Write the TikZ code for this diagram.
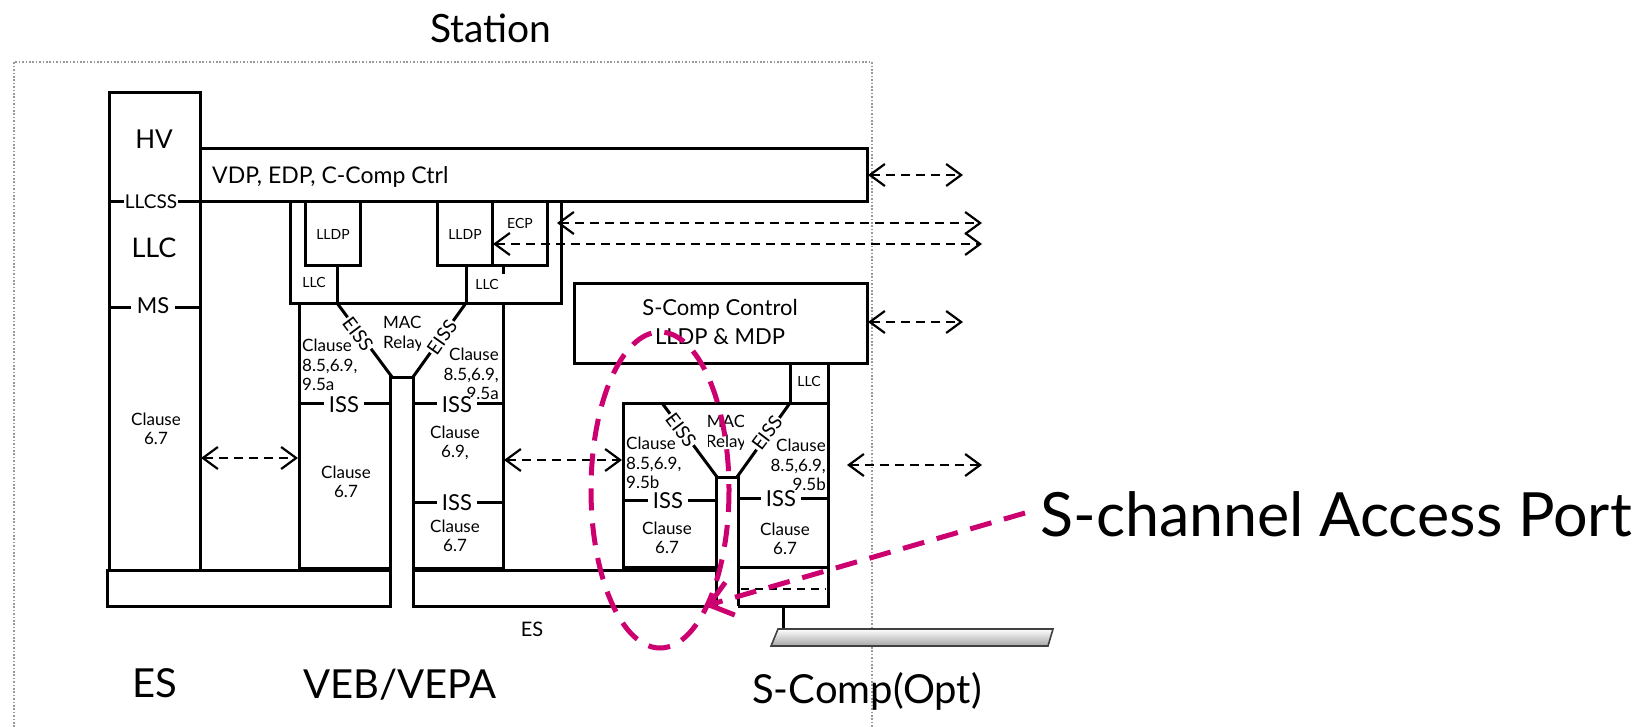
\documentclass[tikz,border=0pt]{standalone}
\usepackage{fontspec}
\setmainfont{Lato}
\usetikzlibrary{arrows.meta}
\definecolor{accentpink}{RGB}{204,0,110}
\begin{document}
\begin{tikzpicture}[x=1pt,y=-1pt,
  line join=miter,
  frame/.style={draw=black, line width=3pt},
  dotbox/.style={draw=black!40, line width=1.8pt, dash pattern=on 1.6pt off 1.8pt},
  darrow/.style={draw=black, line width=2.2pt, dash pattern=on 9pt off 6pt,
     {Straight Barb[length=15pt,width=22pt]}-{Straight Barb[length=15pt,width=22pt]}},
  pinkdash/.style={draw=accentpink, line width=5pt, dash pattern=on 22pt off 13pt},
  txt/.style={inner sep=0pt, align=center},
  small/.style={txt, font=\fontsize{17}{19.5}\selectfont},
  tiny/.style={txt, font=\fontsize{14}{16}\selectfont},
  iss/.style={txt, font=\fontsize{22}{24}\selectfont, fill=white, inner xsep=5pt},
  eiss/.style={txt, font=\fontsize{19}{21}\selectfont, fill=white, inner sep=1pt},
  big/.style={txt, font=\fontsize{40}{44}\selectfont},
]
\useasboundingbox (0,0) rectangle (1648,727);

% Station dotted frame
\draw[dotbox] (14,727) -- (14,62) -- (872,62) -- (872,727);
\node[txt, font=\fontsize{39}{44}\selectfont, anchor=base] (station) at (491,43) {Station};

% ---------------- ES column ----------------
\draw[frame] (109,93) rectangle (200,570);
\draw[frame] (109,202) -- (200,202);
\draw[frame] (109,307) -- (200,307);
\node[txt, font=\fontsize{26}{28}\selectfont] (hv) at (154,139) {HV};
\node[txt, font=\fontsize{19}{21}\selectfont, fill=white, inner xsep=1pt] (llcss) at (151,202) {LLCSS};
\node[txt, font=\fontsize{27}{29}\selectfont] (llcbig) at (154,248) {LLC};
\node[txt, font=\fontsize{22}{24}\selectfont, fill=white, inner xsep=6pt] (ms) at (153,306) {MS};
\node[small] (escl) at (156,429) {Clause\\6.7};

% VDP box
\draw[frame] (200,149) rectangle (867,202);
\node[txt, font=\fontsize{23}{25}\selectfont, anchor=base west] (vdp) at (212,184) {VDP, EDP, C-Comp Ctrl};

% ---------------- VEB / VEPA ----------------
\draw[frame] (290,202) rectangle (561,303);
\draw[frame] (305,202) rectangle (360,266);
\draw[frame] (337,266) -- (337,303);
\draw[frame] (437,202) rectangle (492,266);
\draw[frame] (492,202) rectangle (547,266);
\draw[frame] (466,266) -- (466,303);
\draw[frame] (503,266) -- (503,274);
\node[tiny] (lldpa) at (333,234) {LLDP};
\node[tiny] (lldpb) at (465,234) {LLDP};
\node[tiny] (ecp) at (520,223) {ECP};
\node[tiny] (llca) at (314,282) {LLC};
\node[tiny] (llcb) at (487,284) {LLC};

% ports
\draw[frame] (299,303) -- (299,568) -- (390,568);
\draw[frame] (390,606) -- (390,377) -- (413,377) -- (413,606);
\draw[frame] (413,568) -- (503,568) -- (503,303);
\draw[frame] (299,403) -- (390,403);
\draw[frame] (413,403) -- (503,403);
\draw[frame] (413,502) -- (503,502);
\draw[frame] (337,303) -- (392,377);
\draw[frame] (466,303) -- (413,377);

% bus bars
\draw[frame] (107,570) rectangle (390,606);
\draw[frame] (413,570) rectangle (716,606);

\node[eiss, rotate=-53] (eissa) at (358,334) {EISS};
\node[eiss, rotate=55] (eissb) at (442,337) {EISS};
\begin{scope}
  \clip (370,300) rectangle (420,360);
  \node[small, anchor=west, align=left] (relaya) at (383,334) {MAC\\Relay};
\end{scope}
\node[small, anchor=west, align=left] (cla) at (302,365) {Clause\\8.5,6.9,\\9.5a};
\node[small, anchor=east, align=right] (clb) at (499,374) {Clause\\8.5,6.9,\\9.5a};
\node[iss] (issa) at (344,405) {ISS};
\node[iss] (issb) at (457,405) {ISS};
\node[iss] (issc) at (457,503) {ISS};
\node[small] (clc) at (346,482) {Clause\\6.7};
\node[small] (cld) at (455,443) {Clause\\6.9,};
\node[small] (cle) at (455,536) {Clause\\6.7};
\node[txt, font=\fontsize{20}{22}\selectfont] (essmall) at (532,629) {ES};

% ---------------- S-Comp ----------------
\draw[frame] (574,283) rectangle (867,363);
\node[txt, font=\fontsize{22}{29}\selectfont] (scc) at (720,322) {S-Comp Control\\LLDP \& MDP};
\draw[frame] (790,363) rectangle (828,403);
\node[tiny] (llcc) at (809,381) {LLC};
\draw[frame] (716,567) -- (623,567) -- (623,403) -- (828,403) -- (828,606) -- (738,606);
\draw[frame] (716,606) -- (716,477) -- (738,477) -- (738,606);
\draw[frame] (738,567) -- (828,567);
\draw[frame] (623,500) -- (716,500);
\draw[frame] (738,498) -- (828,498);
\draw[frame] (662,403) -- (717,477);
\draw[frame] (790,403) -- (737,477);
\draw[draw=black, line width=2.2pt, dash pattern=on 8pt off 6pt] (741,589) -- (826,589);
\node[eiss, rotate=-53] (eissc) at (681,430) {EISS};
\node[eiss, rotate=53] (eissd) at (767,433) {EISS};
\begin{scope}
  \clip (708,400) rectangle (743,460);
  \node[small] (relayb) at (726,433) {MAC\\Relay};
\end{scope}
\node[small, anchor=west, align=left] (clf) at (626,463) {Clause\\8.5,6.9,\\9.5b};
\node[small, anchor=east, align=right] (clg) at (826,465) {Clause\\8.5,6.9,\\9.5b};
\node[iss] (issd) at (668,501) {ISS};
\node[iss] (isse) at (781,499) {ISS};
\node[small] (clh) at (667,538) {Clause\\6.7};
\node[small] (cli) at (785,539) {Clause\\6.7};

% cable
\draw[frame] (783,606) -- (783,629);
\shade[top color=white, bottom color=black!35, draw=black!75, line width=1.6pt]
  (778,629) -- (1053,629) -- (1048,646) -- (771,646) -- cycle;

% ---------------- arrows ----------------
\coordinate (a1l) at (868,175); \coordinate (a1r) at (963,175);
\coordinate (a2l) at (557,223); \coordinate (a2r) at (982,223);
\coordinate (a3l) at (493,244); \coordinate (a3r) at (982,244);
\coordinate (a4l) at (868,322); \coordinate (a4r) at (963,322);
\coordinate (a5l) at (201,458); \coordinate (a5r) at (298,458);
\coordinate (a6l) at (504,460); \coordinate (a6r) at (622,460);
\coordinate (a7l) at (847,465); \coordinate (a7r) at (982,465);
\draw[darrow] (a1l) -- (a1r);
\draw[darrow] (a2l) -- (a2r);
\draw[darrow] (a3l) -- (a3r);
\draw[darrow] (a4l) -- (a4r);
\draw[darrow] (a5l) -- (a5r);
\draw[darrow] (a6l) -- (a6r);
\draw[darrow] (a7l) -- (a7r);

% ---------------- big labels ----------------
\node[big, anchor=base] (es) at (155,697) {ES};
\node[big, anchor=base] (veb) at (400,698) {VEB/VEPA};
\node[big, anchor=base west] (scomp) at (752,703) {S-Comp(Opt)};
\node[txt, font=\fontsize{61}{66}\selectfont, anchor=base west] (scap) at (1040,536) {S-channel Access Port};

% ---------------- pink highlight ----------------
\draw[pinkdash] (660,490) ellipse [x radius=69, y radius=158];
\coordinate (pstart) at (1025,513);
\coordinate (ptip) at (705,606);
\draw[pinkdash, -{Straight Barb[length=22pt,width=34pt]}] (pstart) -- (ptip);
\end{tikzpicture}
\end{document}
